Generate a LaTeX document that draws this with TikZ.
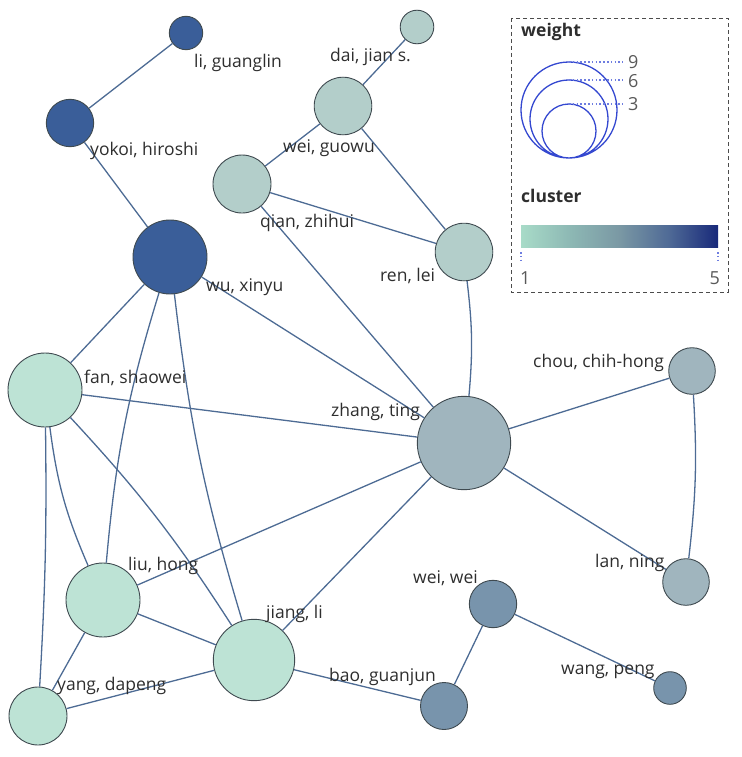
\documentclass[tikz,border=0pt]{standalone}
\usepackage{fontspec}
\setmainfont{Open Sans}

\definecolor{cA}{HTML}{BDE3D5}
\definecolor{cB}{HTML}{B3CECA}
\definecolor{cC}{HTML}{A0B5BE}
\definecolor{cD}{HTML}{7894AC}
\definecolor{cE}{HTML}{3A5E99}
\definecolor{rim}{HTML}{3F4A50}
\definecolor{edge}{HTML}{4D6B94}
\definecolor{txt}{HTML}{2E2E2E}
\definecolor{legblue}{HTML}{3448D0}
\definecolor{legdot}{HTML}{6E7DE0}
\definecolor{barA}{HTML}{A8DBC8}
\definecolor{barB}{HTML}{8DB8B4}
\definecolor{barC}{HTML}{7A98A4}
\definecolor{barD}{HTML}{4F6A96}
\definecolor{barE}{HTML}{18297A}
\pgfdeclarehorizontalshading{clusterbar}{100bp}{color(0bp)=(barA); color(25bp)=(barA); color(37.5bp)=(barB); color(50bp)=(barC); color(62.5bp)=(barD); color(75bp)=(barE); color(100bp)=(barE)}

\begin{document}
\begin{tikzpicture}[x=1pt, y=-1pt,
    author/.style={circle, draw=rim, line width=0.9pt, inner sep=0pt},
    lbl/.style={anchor=west, inner sep=0pt, yshift=-1.5pt, text=txt, font=\fontsize{17.5}{20}\selectfont},
    link/.style={draw=edge, line width=1.3pt},
    legtitle/.style={anchor=west, inner sep=0pt, yshift=-1.5pt, text=txt, font=\fontsize{17.5}{20}\selectfont\bfseries},
    legnum/.style={anchor=west, inner sep=0pt, text=black!65, font=\fontsize{18}{20}\selectfont},
    legdots/.style={legdot, line width=1.7pt, dash pattern=on 1.6pt off 2.2pt}]
    \useasboundingbox (0,0) rectangle (741,757);
    \node[author, minimum size=33.4, fill=cE] (li) at (186,33) {};
    \node[author, minimum size=47.4, fill=cE] (yokoi) at (70,123) {};
    \node[author, minimum size=33.6, fill=cB] (dai) at (417,27) {};
    \node[author, minimum size=57.6, fill=cB] (guowu) at (343,106) {};
    \node[author, minimum size=58, fill=cB] (qian) at (242,184) {};
    \node[author, minimum size=57.6, fill=cB] (ren) at (464,252) {};
    \node[author, minimum size=74, fill=cE] (wu) at (170,257) {};
    \node[author, minimum size=74, fill=cA] (fan) at (45,390) {};
    \node[author, minimum size=93.4, fill=cC] (zhang) at (464,443) {};
    \node[author, minimum size=46.6, fill=cC] (chou) at (692,371) {};
    \node[author, minimum size=46.6, fill=cC] (lan) at (686,582) {};
    \node[author, minimum size=74, fill=cA] (liu) at (103,600) {};
    \node[author, minimum size=81.4, fill=cA] (jiang) at (254,660) {};
    \node[author, minimum size=47.4, fill=cD] (weiwei) at (493,604) {};
    \node[author, minimum size=32.6, fill=cD] (wang) at (670,688) {};
    \node[author, minimum size=47, fill=cD] (bao) at (444,706) {};
    \node[author, minimum size=58, fill=cA] (yang) at (38,716) {};
    % links
    \draw[link] (li) -- (yokoi);
    \draw[link] (yokoi) -- (wu);
    \draw[link] (dai) -- (guowu);
    \draw[link] (guowu) -- (qian);
    \draw[link] (guowu) -- (ren);
    \draw[link] (qian) -- (ren);
    \draw[link] (qian) -- (zhang);
    \draw[link] (wu) -- (zhang);
    \draw[link] (ren) to[bend left=6] (zhang);
    \draw[link] (wu) -- (fan);
    \draw[link] (wu) to[bend right=6] (liu);
    \draw[link] (wu) to[bend right=5] (jiang);
    \draw[link] (fan) -- (zhang);
    \draw[link] (fan) to[bend right=8] (liu);
    \draw[link] (fan) to[bend left=5] (jiang);
    \draw[link] (fan) to[bend left=2] (yang);
    \draw[link] (zhang) -- (liu);
    \draw[link] (zhang) -- (jiang);
    \draw[link] (zhang) -- (chou);
    \draw[link] (zhang) -- (lan);
    \draw[link] (chou) to[bend left=5] (lan);
    \draw[link] (liu) -- (jiang);
    \draw[link] (liu) -- (yang);
    \draw[link] (yang) -- (jiang);
    \draw[link] (jiang) -- (bao);
    \draw[link] (bao) -- (weiwei);
    \draw[link] (weiwei) -- (wang);
    % labels
    \node[lbl] (l-li) at (194,61) {li, guanglin};
    \node[lbl] (l-yokoi) at (90,149) {yokoi, hiroshi};
    \node[lbl] (l-dai) at (330,55) {dai, jian s.};
    \node[lbl] (l-guowu) at (283,147) {wei, guowu};
    \node[lbl] (l-qian) at (260,221) {qian, zhihui};
    \node[lbl] (l-ren) at (380,274) {ren, lei};
    \node[lbl] (l-wu) at (206,286) {wu, xinyu};
    \node[lbl] (l-fan) at (84,376) {fan, shaowei};
    \node[lbl] (l-zhang) at (331,410) {zhang, ting};
    \node[lbl] (l-chou) at (533,361) {chou, chih-hong};
    \node[lbl] (l-lan) at (595,561) {lan, ning};
    \node[lbl] (l-liu) at (128,564) {liu, hong};
    \node[lbl] (l-jiang) at (266,612) {jiang, li};
    \node[lbl] (l-weiwei) at (413,577) {wei, wei};
    \node[lbl] (l-wang) at (561,670) {wang, peng};
    \node[lbl] (l-bao) at (329,675) {bao, guanjun};
    \node[lbl] (l-yang) at (57,684) {yang, dapeng};
    % legend
    \draw[black!70, line width=0.8pt, dash pattern=on 4pt off 3pt] (511,18) rectangle (728,292);
    \node[legtitle] (weight) at (521,30) {weight};
    \draw[legblue, line width=1.3pt] (569,110) circle (48) (569,119) circle (39) (569,131) circle (27);
    \draw[legdots] (569,62) -- (623,62) (569,80) -- (623,80) (569,104) -- (623,104);
    \node[legnum] (w9) at (628,62) {9};
    \node[legnum] (w6) at (628,81) {6};
    \node[legnum] (w3) at (628,104) {3};
    \node[legtitle] (cluster) at (521,194) {cluster};
    \shade[shading=clusterbar] (521,225) rectangle (718,247);
    \draw[legdots] (521,252) -- (521,263) (718,252) -- (718,263);
    \node[legnum] (c1) at (520,278) {1};
    \node[legnum, anchor=east] (c5) at (720,278) {5};
\end{tikzpicture}
\end{document}
